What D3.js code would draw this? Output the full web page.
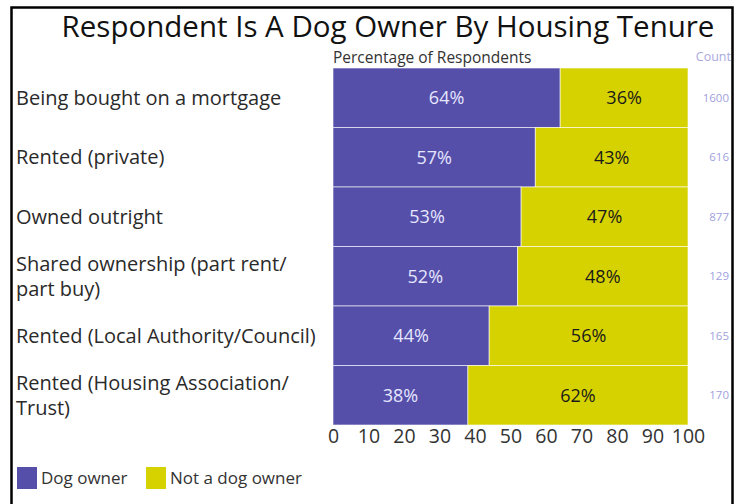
<!DOCTYPE html>
<html>
<head>
<meta charset="utf-8">
<script src="https://cdn.jsdelivr.net/npm/d3@7"></script>
<style>
  body { margin: 0; background: #fff; }
  svg { display: block; font-family: 'Open Sans', sans-serif; }
</style>
</head>
<body>
<div id="chart"></div>
<script>
// values
const categories = [
  'Being bought on a mortgage',
  'Rented (private)',
  'Owned outright',
  'Shared ownership (part rent/ part buy)',
  'Rented (Local Authority/Council)',
  'Rented (Housing Association/ Trust)'
]
const dogOwner = [64, 57, 53, 52, 44, 38]
const notDogOwner = [36, 43, 47, 48, 56, 62]
const counts = [1600, 616, 877, 129, 165, 170]
const xTicks = [0, 10, 20, 30, 40, 50, 60, 70, 80, 90, 100]
const seriesNames = ['Dog owner', 'Not a dog owner']

const width = 741
const height = 504
const colors = ['#554fa9', '#d6d200']

const svg = d3.select('#chart')
  .append('svg')
  .attr('width', width)
  .attr('height', height)

// frame
svg.append('rect')
  .attr('x', 11.5).attr('y', 7.5)
  .attr('width', 721).attr('height', 520)
  .attr('fill', 'none')
  .attr('stroke', '#000')
  .attr('stroke-width', 2.5)

svg.append('text')
  .attr('x', 388).attr('y', 37)
  .attr('text-anchor', 'middle')
  .attr('font-size', 29.5)
  .attr('fill', '#111')
  .text('Respondent Is A Dog Owner By Housing Tenure')

const x = d3.scaleLinear().domain([0, 100]).range([333, 688])
const y = d3.scaleBand().domain(categories).range([68, 425]).padding(0)

svg.append('text')
  .attr('x', 333).attr('y', 63)
  .attr('font-size', 15.5)
  .attr('fill', '#333')
  .text('Percentage of Respondents')

svg.append('text')
  .attr('x', 731).attr('y', 61)
  .attr('text-anchor', 'end')
  .attr('font-size', 12.5)
  .attr('fill', '#a9a9df')
  .text('Count')

const rows = categories.map((c, i) => ({ cat: c, dog: dogOwner[i], not: notDogOwner[i], n: counts[i] }))

const row = svg.selectAll('g.row')
  .data(rows)
  .enter()
  .append('g')
  .attr('class', 'row')

row.append('rect')
  .attr('x', d => x(0))
  .attr('y', d => y(d.cat))
  .attr('width', d => x(d.dog) - x(0))
  .attr('height', y.bandwidth())
  .attr('fill', colors[0])
  .attr('stroke', '#fff')
  .attr('stroke-opacity', 0.6)

row.append('rect')
  .attr('x', d => x(d.dog))
  .attr('y', d => y(d.cat))
  .attr('width', d => x(100) - x(d.dog))
  .attr('height', y.bandwidth())
  .attr('fill', colors[1])
  .attr('stroke', '#fff')
  .attr('stroke-opacity', 0.6)

row.append('text')
  .attr('x', d => (x(0) + x(d.dog)) / 2)
  .attr('y', d => y(d.cat) + y.bandwidth() / 2)
  .attr('dy', '0.35em')
  .attr('text-anchor', 'middle')
  .attr('font-size', 18)
  .attr('fill', '#e6e6ff')
  .text(d => d.dog + '%')

row.append('text')
  .attr('x', d => (x(d.dog) + x(100)) / 2)
  .attr('y', d => y(d.cat) + y.bandwidth() / 2)
  .attr('dy', '0.35em')
  .attr('text-anchor', 'middle')
  .attr('font-size', 18)
  .attr('fill', '#1a1a1a')
  .text(d => d.not + '%')

row.append('text')
  .attr('x', 729)
  .attr('y', d => y(d.cat) + y.bandwidth() / 2)
  .attr('dy', '0.35em')
  .attr('text-anchor', 'end')
  .attr('font-size', 11.5)
  .attr('fill', '#9f9fe0')
  .text(d => d.n)

// category labels, wrapped after a slash
row.each(function (d) {
  const lines = d.cat.split('/ ').map((s, i, a) => i < a.length - 1 ? s + '/' : s)
  const lh = 25
  const cy = y(d.cat) + y.bandwidth() / 2 - (lines.length - 1) * lh / 2
  const t = d3.select(this).append('text')
    .attr('x', 16)
    .attr('font-size', 20)
    .attr('fill', '#2a2a2a')
  lines.forEach((l, i) => {
    t.append('tspan')
      .attr('x', 16)
      .attr('y', cy + i * lh)
      .attr('dy', '0.35em')
      .text(l)
  })
})

// x axis, labels only
const axis = svg.append('g')
  .attr('transform', 'translate(0,426)')
  .call(d3.axisBottom(x).tickValues(xTicks).tickSize(0).tickPadding(3))
axis.select('.domain').remove()
axis.selectAll('text')
  .attr('font-size', 19.5)
  .attr('font-family', "'Open Sans', sans-serif")
  .attr('fill', '#333')

// legend
const legendX = [17, 146]
const legend = svg.selectAll('g.legend')
  .data(seriesNames)
  .enter()
  .append('g')
  .attr('class', 'legend')
  .attr('transform', (d, i) => 'translate(' + legendX[i] + ',467)')
legend.append('rect')
  .attr('width', 20).attr('height', 22)
  .attr('fill', (d, i) => colors[i])
legend.append('text')
  .attr('x', 24).attr('y', 11)
  .attr('dy', '0.35em')
  .attr('font-size', 17)
  .attr('fill', '#333')
  .text(d => d)
</script>
</body>
</html>
